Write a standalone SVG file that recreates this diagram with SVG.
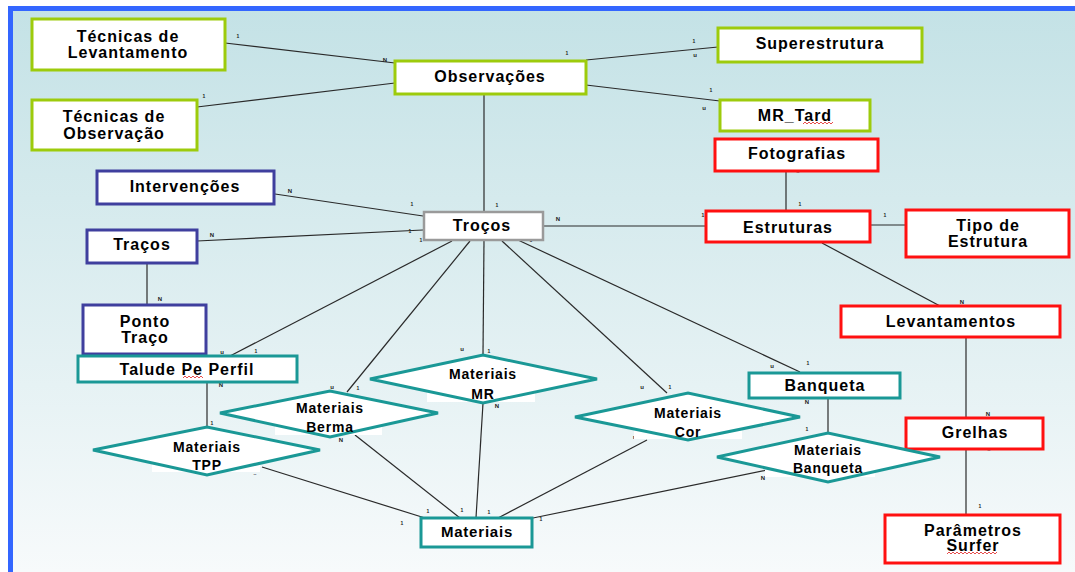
<svg xmlns="http://www.w3.org/2000/svg" width="1075" height="572" viewBox="0 0 1075 572">
<defs>
<linearGradient id="bg" x1="0" y1="0" x2="0" y2="1">
<stop offset="0" stop-color="#c4e2e6"/>
<stop offset="1" stop-color="#f7fafb"/>
</linearGradient>
<style>
.t{font-family:"Liberation Sans",Arial,sans-serif;font-weight:bold;font-size:16px;letter-spacing:1px;fill:#000;text-anchor:middle}
.d{font-size:14px;letter-spacing:0.8px}
.s{font-family:"Liberation Sans",Arial,sans-serif;font-weight:bold;font-size:6px;fill:#222;text-anchor:middle}
.o{font-size:5px}
.g{fill:#fff;stroke:#9dcb0c;stroke-width:3}
.b{fill:#fff;stroke:#3f3f9e;stroke-width:3}
.r{fill:#fff;stroke:#ff1010;stroke-width:3}
.c{fill:#fff;stroke:#1a9896;stroke-width:3}
.k{fill:#fff;stroke:#9a9a9a;stroke-width:2.5}
.w{fill:#fff}
.l{stroke:#2a2a2a;stroke-width:1.2;fill:none}
.sp{stroke:#e02020;stroke-width:0.8;fill:none}
</style>
</defs>
<rect x="0" y="0" width="1075" height="572" fill="#fff"/>
<rect x="13" y="11" width="1062" height="561" fill="url(#bg)"/>
<rect x="8" y="6" width="1067" height="5" fill="#3366ff"/>
<rect x="8" y="6" width="5" height="566" fill="#3366ff"/>

<g id="connectors">
<line class="l" x1="225" y1="43" x2="395" y2="63"/>
<line class="l" x1="197" y1="107" x2="395" y2="83"/>
<line class="l" x1="586" y1="60" x2="718" y2="47"/>
<line class="l" x1="586" y1="85" x2="720" y2="101"/>
<line class="l" x1="484" y1="94" x2="484" y2="212"/>
<line class="l" x1="275" y1="194" x2="423" y2="216"/>
<line class="l" x1="197" y1="241" x2="423" y2="230"/>
<line class="l" x1="147" y1="263" x2="147" y2="305"/>
<line class="l" x1="452" y1="241" x2="230" y2="356"/>
<line class="l" x1="470" y1="241" x2="347" y2="392"/>
<line class="l" x1="484" y1="240" x2="483" y2="355"/>
<line class="l" x1="502" y1="241" x2="667" y2="393"/>
<line class="l" x1="518" y1="240" x2="800" y2="372"/>
<line class="l" x1="543" y1="226" x2="706" y2="226"/>
<line class="l" x1="786" y1="171" x2="786" y2="211"/>
<line class="l" x1="870" y1="225" x2="906" y2="225"/>
<line class="l" x1="822" y1="243" x2="940" y2="306"/>
<line class="l" x1="966" y1="337" x2="966" y2="418"/>
<line class="l" x1="966" y1="449" x2="966" y2="515"/>
<line class="l" x1="207" y1="382" x2="207" y2="427"/>
<line class="l" x1="828" y1="398" x2="828" y2="433"/>
<line class="l" x1="262" y1="467" x2="425" y2="518"/>
<line class="l" x1="355" y1="435" x2="460" y2="518"/>
<line class="l" x1="483" y1="403" x2="476" y2="518"/>
<line class="l" x1="647" y1="440" x2="498" y2="518"/>
<line class="l" x1="767" y1="470" x2="533" y2="518"/>
</g>

<g id="cardinalities">
<text class="s" x="385" y="62">N</text>
<text class="s" x="695" y="57">u</text>
<text class="s o" x="694" y="43">1</text>
<text class="s" x="704" y="110">u</text>
<text class="s o" x="711" y="92">1</text>
<text class="s o" x="238" y="38">1</text>
<text class="s o" x="204" y="98">1</text>
<text class="s o" x="567" y="55">1</text>
<text class="s" x="290" y="193">N</text>
<text class="s" x="212" y="237">N</text>
<text class="s" x="160" y="301">N</text>
<text class="s o" x="412" y="206">1</text>
<text class="s o" x="497" y="207">1</text>
<text class="s o" x="410" y="233">1</text>
<text class="s o" x="421" y="242">1</text>
<text class="s o" x="531" y="242">1</text>
<text class="s" x="558" y="221">N</text>
<text class="s o" x="703" y="217">1</text>
<text class="s o" x="798" y="173">..</text>
<text class="s o" x="800" y="206">1</text>
<text class="s o" x="885" y="217">1</text>
<text class="s" x="962" y="304">N</text>
<text class="s" x="772" y="368">u</text>
<text class="s o" x="808" y="365">1</text>
<text class="s" x="222" y="354">u</text>
<text class="s o" x="256" y="353">1</text>
<text class="s" x="221" y="387">N</text>
<text class="s o" x="212" y="425">1</text>
<text class="s" x="332" y="389">u</text>
<text class="s o" x="358" y="390">1</text>
<text class="s" x="341" y="442">N</text>
<text class="s" x="462" y="351">u</text>
<text class="s o" x="489" y="353">1</text>
<text class="s" x="497" y="408">N</text>
<text class="s" x="642" y="389">u</text>
<text class="s o" x="670" y="389">1</text>
<text class="s o" x="634" y="439">r</text>
<text class="s" x="807" y="404">N</text>
<text class="s o" x="807" y="431">1</text>
<text class="s" x="763" y="480">N</text>
<text class="s o" x="255" y="475">..</text>
<text class="s o" x="402" y="525">1</text>
<text class="s o" x="428" y="513">1</text>
<text class="s o" x="462" y="512">1</text>
<text class="s o" x="489" y="514">1</text>
<text class="s o" x="541" y="521">1</text>
<text class="s" x="988" y="416">N</text>
<text class="s o" x="989" y="451">..</text>
<text class="s o" x="980" y="508">1</text>
</g>

<g id="tecnicas-levantamento"><rect class="g" x="32" y="19" width="193" height="51"/>
<text class="t" x="128" y="42">Técnicas de</text><text class="t" x="128" y="58">Levantamento</text></g>
<g id="tecnicas-observacao"><rect class="g" x="32" y="100" width="165" height="50"/>
<text class="t" x="114" y="122">Técnicas de</text><text class="t" x="114" y="139">Observação</text></g>
<g id="observacoes"><rect class="g" x="395" y="61" width="191" height="33"/>
<text class="t" x="490" y="82">Observações</text></g>
<g id="superestrutura"><rect class="g" x="718" y="28" width="204" height="34"/>
<text class="t" x="820" y="49">Superestrutura</text></g>
<g id="mr-tard"><rect class="g" x="720" y="100" width="150" height="31"/>
<text class="t" x="795" y="121">MR_Tard</text>
<polyline class="sp" points="803,124 805,122 807,124 809,122 811,124 813,122 815,124 817,122 819,124 821,122 823,124 825,122 827,124 829,122 831,124 833,122"/></g>
<g id="fotografias"><rect class="r" x="715" y="139" width="163" height="32"/>
<text class="t" x="797" y="159">Fotografias</text></g>
<g id="intervencoes"><rect class="b" x="97" y="171" width="177" height="33"/>
<text class="t" x="185" y="192">Intervenções</text></g>
<g id="tracos"><rect class="b" x="87" y="230" width="110" height="33"/>
<text class="t" x="142" y="250">Traços</text></g>
<g id="ponto-traco"><rect class="b" x="83" y="305" width="123" height="49"/>
<text class="t" x="145" y="327">Ponto</text><text class="t" x="145" y="343">Traço</text></g>
<g id="trocos"><rect class="k" x="424" y="212" width="119" height="28"/>
<text class="t" x="482" y="231">Troços</text></g>
<g id="estruturas"><rect class="r" x="706" y="211" width="164" height="31"/>
<text class="t" x="788" y="233">Estruturas</text></g>
<g id="tipo-estrutura"><rect class="r" x="906" y="210" width="163" height="47"/>
<text class="t" x="988" y="231">Tipo de</text><text class="t" x="988" y="247">Estrutura</text></g>
<g id="levantamentos"><rect class="r" x="841" y="306" width="219" height="31"/>
<text class="t" x="951" y="327">Levantamentos</text></g>
<g id="grelhas"><rect class="r" x="906" y="418" width="137" height="31"/>
<text class="t" x="975" y="438">Grelhas</text></g>
<g id="parametros-surfer"><rect class="r" x="885" y="515" width="175" height="48"/>
<text class="t" x="973" y="536">Parâmetros</text><text class="t" x="973" y="551">Surfer</text>
<polyline class="sp" points="947,554 949,552 951,554 953,552 955,554 957,552 959,554 961,552 963,554 965,552 967,554 969,552 971,554 973,552 975,554 977,552 979,554 981,552 983,554 985,552 987,554 989,552 991,554 993,552 995,554 997,552"/></g>
<g id="talude-pe-perfil"><rect class="c" x="78" y="356" width="219" height="26"/>
<text class="t" x="187" y="375">Talude Pe Perfil</text>
<polyline class="sp" points="183,378 185,376 187,378 189,376 191,378 193,376 195,378 197,376 199,378 201,376 203,378"/></g>
<g id="banqueta"><rect class="c" x="749" y="373" width="151" height="25"/>
<text class="t" x="825" y="391">Banqueta</text></g>
<g id="materiais"><rect class="c" x="421" y="518" width="111" height="29"/>
<text class="t d" x="477" y="537" style="font-size:15px">Materiais</text></g>

<g id="materiais-berma"><rect class="w" x="275" y="420" width="107" height="15"/>
<polygon class="c" points="220,413 330,391 438,413 330,437"/>
<text class="t d" x="330" y="413">Materiais</text><text class="t d" x="330" y="432">Berma</text></g>
<g id="materiais-tpp"><rect class="w" x="152" y="457" width="108" height="15"/>
<polygon class="c" points="93,450 207,427 320,450 207,475"/>
<text class="t d" x="207" y="452">Materiais</text><text class="t d" x="207" y="470">TPP</text></g>
<g id="materiais-mr"><rect class="w" x="427" y="386" width="108" height="16"/>
<polygon class="c" points="370,379 483,355 597,379 483,403"/>
<text class="t d" x="483" y="379">Materiais</text><text class="t d" x="483" y="399">MR</text></g>
<g id="materiais-cor"><rect class="w" x="634" y="424" width="108" height="15"/>
<polygon class="c" points="575,417 688,393 800,417 688,440"/>
<text class="t d" x="688" y="418">Materiais</text><text class="t d" x="688" y="437">Cor</text></g>
<g id="materiais-banqueta"><rect class="w" x="765" y="462" width="110" height="15"/>
<polygon class="c" points="717,457 828,433 940,457 828,482"/>
<text class="t d" x="828" y="455">Materiais</text><text class="t d" x="828" y="473">Banqueta</text></g>
</svg>
